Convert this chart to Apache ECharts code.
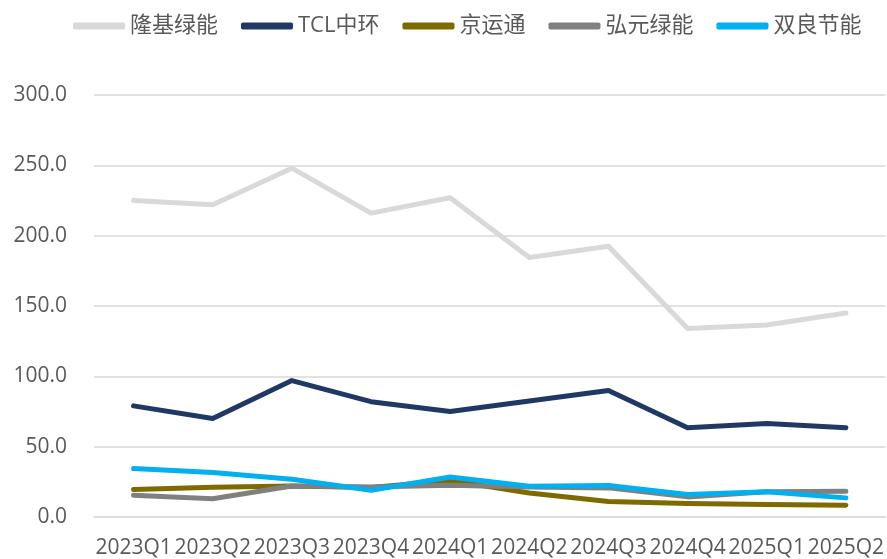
<!DOCTYPE html>
<html>
<head>
<meta charset="utf-8">
<script src="https://cdn.jsdelivr.net/npm/echarts@6/dist/echarts.min.js"></script>
<style>
  html, body { margin: 0; padding: 0; background: #fff; }
  #chart { width: 887px; height: 559px; }
</style>
</head>
<body>
<div id="chart"></div>
<script>
// 季度
var quarters = ['2023Q1', '2023Q2', '2023Q3', '2023Q4', '2024Q1', '2024Q2', '2024Q3', '2024Q4', '2025Q1', '2025Q2']
var yTicks = [0, 50, 100, 150, 200, 250, 300]

// 各公司数值
var longi = [225, 222, 248, 216, 227, 184.5, 192.5, 134, 136.5, 145]
var tcl = [79, 70, 97, 82, 75, 82.5, 90, 63.5, 66.5, 63.5]
var jingyuntong = [19.5, 21.2, 22, 21, 26, 17, 11, 9.6, 8.8, 8.4]
var hongyuan = [15.5, 13, 22, 21.4, 22.6, 21.4, 20.7, 14.3, 17.9, 18.3]
var shuangliang = [34.4, 31.6, 26.8, 19, 28.5, 21.8, 22.4, 16, 17.9, 13.6]

var names = ['隆基绿能', 'TCL中环', '京运通', '弘元绿能', '双良节能']
var colors = ['#d9d9d9', '#1f3864', '#7f6a00', '#808080', '#00b0f0']
var datas = [longi, tcl, jingyuntong, hongyuan, shuangliang]

var mycharts = echarts.init(document.getElementById('chart'))
mycharts.setOption({
  animation: false,
  color: colors,
  legend: {
    left: 68,
    top: 10,
    itemGap: 23,
    itemWidth: 52,
    itemHeight: 7,
    icon: 'roundRect',
    textStyle: {
      fontSize: 22,
      color: '#595959',
      fontFamily: '"Open Sans", "Noto Sans CJK SC", sans-serif'
    },
    data: names
  },
  grid: {
    left: 94,
    right: 0,
    top: 95,
    bottom: 41,
    containLabel: false
  },
  xAxis: {
    type: 'category',
    boundaryGap: true,
    data: quarters,
    axisLine: { show: true, lineStyle: { color: '#d9d9d9', width: 1.5 } },
    axisTick: { show: false },
    axisLabel: {
      interval: 0,
      margin: 21,
      fontSize: 21,
      color: '#595959',
      fontFamily: '"Open Sans", sans-serif'
    }
  },
  yAxis: {
    type: 'value',
    min: yTicks[0],
    max: yTicks[yTicks.length - 1],
    interval: 50,
    axisLine: { show: false },
    axisTick: { show: false },
    splitLine: { lineStyle: { color: '#d9d9d9', width: 1.5 } },
    axisLabel: {
      margin: 27,
      fontSize: 21,
      color: '#595959',
      fontFamily: '"Open Sans", sans-serif',
      formatter: function (v) { return v.toFixed(1) }
    }
  },
  series: names.map(function (n, i) {
    return {
      name: n,
      type: 'line',
      data: datas[i],
      showSymbol: false,
      symbol: 'none',
      lineStyle: { width: 5, color: colors[i], cap: 'round', join: 'round' }
    }
  })
})
</script>
</body>
</html>
